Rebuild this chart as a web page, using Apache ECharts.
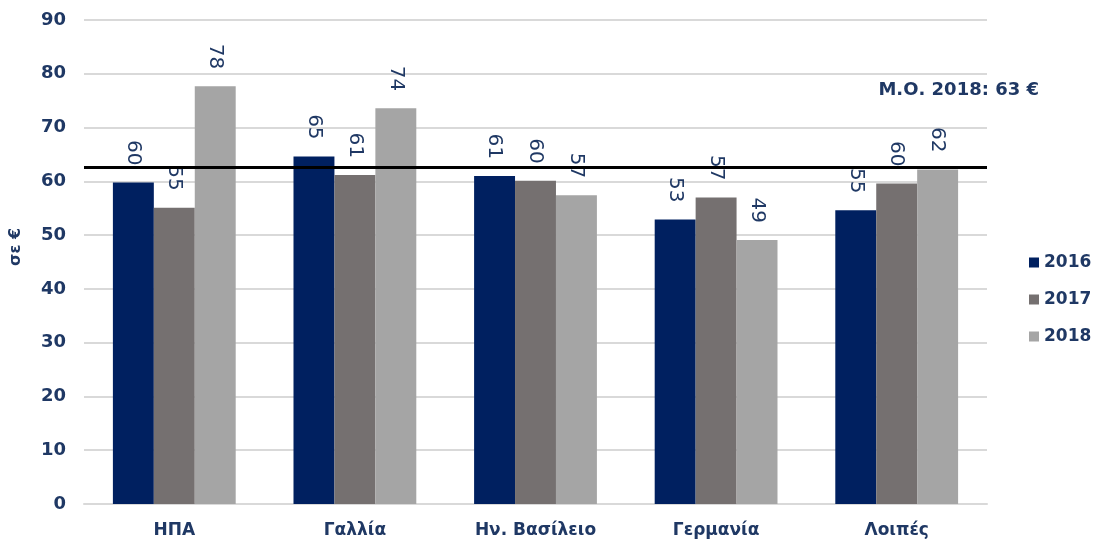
<!DOCTYPE html>
<html>
<head>
<meta charset="utf-8">
<style>
  html, body { margin: 0; padding: 0; background: #ffffff; }
  #chart { width: 1100px; height: 541px; }
</style>
<script src="https://cdn.jsdelivr.net/npm/echarts@6/dist/echarts.min.js"></script>
</head>
<body>
<div id="chart"></div>
<script>
// Average spend per visitor by market, in euros
const categories = ['ΗΠΑ', 'Γαλλία', 'Ην. Βασίλειο', 'Γερμανία', 'Λοιπές'];
const years = ['2016', '2017', '2018'];
const values2016 = [59.8, 64.6, 61.0, 52.9, 54.6];
const values2017 = [55.1, 61.2, 60.1, 57.0, 59.6];
const values2018 = [77.7, 73.6, 57.4, 49.1, 62.2];
const mean2018 = 62.6;
const yTicks = { min: 0, max: 90, interval: 10 };

const navy = '#1F3864';
const font = 'DejaVu Sans, Verdana, sans-serif';
const colors = ['#002060', '#757070', '#A5A5A5'];

function barSeries(name, data, color, withMean) {
  const s = {
    name: name,
    type: 'bar',
    data: data,
    barGap: '0%',
    barCategoryGap: '32%',
    itemStyle: { color: color },
    label: {
      show: true,
      position: 'top',
      distance: 17,
      rotate: -90,
      align: 'right',
      verticalAlign: 'middle',
      color: navy,
      fontFamily: font,
      fontSize: 20,
      formatter: p => Math.round(p.value)
    },
    z: 2
  };
  if (withMean) {
    s.markLine = {
      silent: true,
      symbol: ['none', 'none'],
      lineStyle: { color: '#000000', width: 3, type: 'solid' },
      label: {
        show: true,
        position: 'insideEndTop',
        offset: [57, -63],
        color: navy,
        fontFamily: font,
        fontWeight: 'bold',
        fontSize: 18,
        formatter: () => 'Μ.Ο. 2018: ' + Math.round(mean2018) + ' €'
      },
      data: [{ yAxis: mean2018 }],
      z: 5
    };
  }
  return s;
}

const chart = echarts.init(document.getElementById('chart'));
chart.setOption({
  animation: false,
  backgroundColor: '#ffffff',
  grid: { left: 82, right: 113, top: 20, bottom: 37 },
  legend: {
    orient: 'vertical',
    left: 1024,
    top: 249,
    icon: 'rect',
    itemWidth: 10,
    itemHeight: 10,
    itemGap: 20,
    data: years,
    textStyle: { color: navy, fontFamily: font, fontWeight: 'bold', fontSize: 17 }
  },
  xAxis: {
    type: 'category',
    data: categories,
    axisLine: { show: true, lineStyle: { color: '#D9D9D9', width: 2 } },
    axisTick: { show: false },
    axisLabel: {
      color: navy,
      fontFamily: font,
      fontWeight: 'bold',
      fontSize: 17,
      margin: 18
    }
  },
  yAxis: {
    type: 'value',
    min: yTicks.min,
    max: yTicks.max,
    interval: yTicks.interval,
    name: 'σε €',
    nameLocation: 'middle',
    nameRotate: 90,
    nameGap: 60,
    nameTextStyle: {
      color: navy,
      fontFamily: font,
      fontWeight: 'bold',
      fontSize: 16,
      padding: [0, 0, 0, 30]
    },
    axisLine: { show: false },
    axisTick: { show: false },
    splitLine: { lineStyle: { color: '#D9D9D9', width: 2 } },
    axisLabel: {
      color: navy,
      fontFamily: font,
      fontWeight: 'bold',
      fontSize: 18,
      margin: 18
    }
  },
  series: [
    barSeries(years[0], values2016, colors[0], false),
    barSeries(years[1], values2017, colors[1], false),
    barSeries(years[2], values2018, colors[2], true)
  ]
});
</script>
</body>
</html>
